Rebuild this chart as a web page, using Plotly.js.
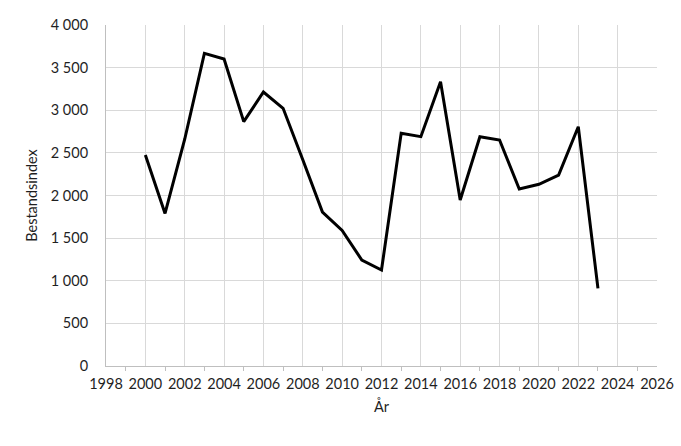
<!DOCTYPE html>
<html>
<head>
<meta charset="utf-8">
<script src="https://cdn.plot.ly/plotly-3.0.1.min.js"></script>
<style>html,body{margin:0;padding:0;background:#fff;}#chart{width:681px;height:446px;}</style>
</head>
<body>
<div id="chart"></div>
<script>
const years = [2000,2001,2002,2003,2004,2005,2006,2007,2008,2009,2010,2011,2012,2013,2014,2015,2016,2017,2018,2019,2020,2021,2022,2023];
const index = [2475,1790,2660,3667,3601,2866,3214,3023,2420,1805,1590,1243,1126,2729,2690,3335,1947,2690,2651,2076,2131,2240,2807,911];
const xTitle = "År";
const yTitle = "Bestandsindex";

const fontFam = "Lato, 'Open Sans', sans-serif";
const fs = 14.5;
Plotly.newPlot('chart', [{
  x: years, y: index, type: 'scatter', mode: 'lines',
  line: {color: '#000000', width: 3}
}], {
  width: 681, height: 446,
  margin: {l: 105.5, r: 24, t: 25, b: 80},
  paper_bgcolor: '#ffffff', plot_bgcolor: '#ffffff',
  separators: ', ',
  font: {family: fontFam, size: fs, color: '#1f1f1f'},
  showlegend: false,
  xaxis: {
    range: [1998, 2026], dtick: 2, tick0: 1998, showgrid: true, gridcolor: '#d9d9d9', gridwidth: 1,
    showline: true, linecolor: '#bfbfbf', linewidth: 1, zeroline: false,
    ticks: '', ticklabelstandoff: 5,
    minor: {dtick: 1, tick0: 1999, ticks: 'outside', ticklen: 4, tickcolor: '#bfbfbf', showgrid: false},
    tickfont: {family: fontFam, size: fs, color: '#1f1f1f'},
    title: {text: xTitle, font: {family: fontFam, size: fs, color: '#1f1f1f'}, standoff: 10}
  },
  yaxis: {
    range: [0, 4000], dtick: 500, showgrid: true, gridcolor: '#d9d9d9', gridwidth: 1,
    showline: true, linecolor: '#bfbfbf', linewidth: 1, zeroline: false, mirror: false,
    separatethousands: true, ticks: '', ticklabelstandoff: 14,
    tickfont: {family: fontFam, size: fs, color: '#1f1f1f'},
    title: {text: yTitle, font: {family: fontFam, size: fs, color: '#1f1f1f'}, standoff: 9}
  }
}, {displayModeBar: false, staticPlot: true});
</script>
</body>
</html>
